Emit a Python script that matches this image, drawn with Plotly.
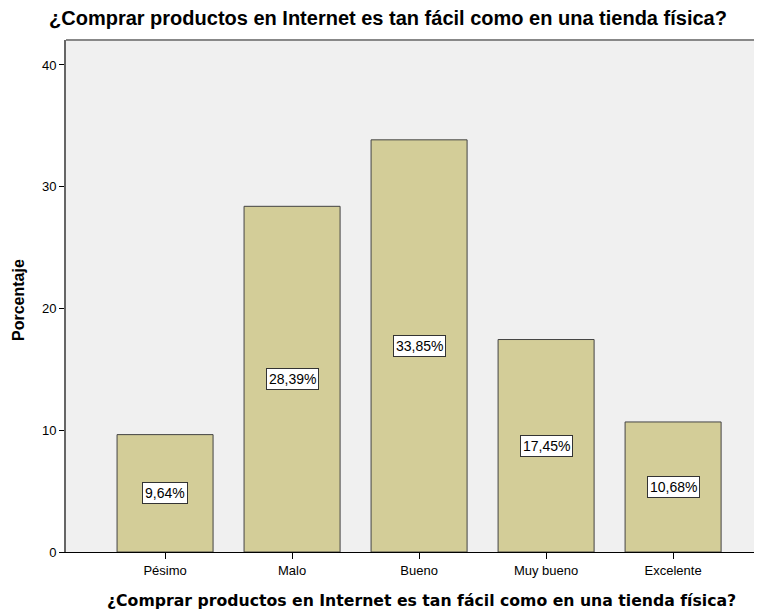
import plotly.graph_objects as go

categories = ["Pésimo", "Malo", "Bueno", "Muy bueno", "Excelente"]
values = [9.64, 28.39, 33.85, 17.45, 10.68]
labels = ["9,64%", "28,39%", "33,85%", "17,45%", "10,68%"]
y_ticks = [0, 10, 20, 30, 40]

title = "¿Comprar productos en Internet es tan fácil como en una tienda física?"

# page is rendered with an 8px body margin, so the figure is 8px smaller
OFF = 8
W, H = 762 - OFF, 612 - OFF
L, R, T, B = 66 - OFF, 0, 40 - OFF, 60


def px(xp):
    return (xp - OFF - L) / (W - L - R)


def py(yp):
    return (H - B - (yp - OFF)) / (H - T - B)


fig = go.Figure()
fig.add_trace(go.Bar(
    x=list(range(len(categories))), y=values, width=0.756,
    marker=dict(color="#d3cd98", line=dict(color="#444444", width=1)),
    hoverinfo="skip",
))

for i, (v, lab) in enumerate(zip(values, labels)):
    fig.add_annotation(x=i, y=v / 2, text=lab, showarrow=False,
                       font=dict(family="Liberation Sans, Arial", size=14, color="black"),
                       bgcolor="white", bordercolor="#333333", borderwidth=1, borderpad=2)

# chart title
fig.add_annotation(xref="paper", yref="paper", x=px(388), y=py(18),
                   text="<b>" + title + "</b>",
                   showarrow=False, xanchor="center", yanchor="middle",
                   font=dict(family="Liberation Sans, Arial", size=20, color="black"))
# x-axis title
fig.add_annotation(xref="paper", yref="paper", x=px(421), y=py(600),
                   text="<b>" + title + "</b>",
                   showarrow=False, xanchor="center", yanchor="middle",
                   font=dict(family="DejaVu Sans", size=15.7, color="black"))
# y-axis title
fig.add_annotation(xref="paper", yref="paper", x=px(18), y=py(300),
                   text="<b>Porcentaje</b>",
                   showarrow=False, xanchor="center", yanchor="middle", textangle=-90,
                   font=dict(family="Liberation Sans, Arial", size=16, color="black"))

fig.update_layout(
    width=W, height=H,
    margin=dict(l=L, r=R, t=T, b=B, autoexpand=False),
    paper_bgcolor="white", plot_bgcolor="#f0f0f0",
    showlegend=False,
    xaxis=dict(
        range=[-0.78, 4.70], tickmode="array", automargin=False,
        tickvals=list(range(len(categories))), ticktext=categories,
        ticks="outside", ticklen=6, tickcolor="black", showgrid=False,
        showline=True, linecolor="black", linewidth=1, zeroline=False,
        tickfont=dict(family="Liberation Sans, Arial", size=13, color="black"),
    ),
    yaxis=dict(
        range=[0, 42.05], tickvals=y_ticks, ticks="outside", ticklen=5,
        automargin=False,
        tickcolor="black", showgrid=False, zeroline=False,
        showline=True, linecolor="#666666", linewidth=2,
        tickfont=dict(family="Liberation Sans, Arial", size=13, color="black"),
    ),
)
fig.add_shape(type="line", xref="paper", yref="paper", x0=0, x1=1, y0=1, y1=1,
              line=dict(color="#888888", width=2))

fig.write_html("out.html")
